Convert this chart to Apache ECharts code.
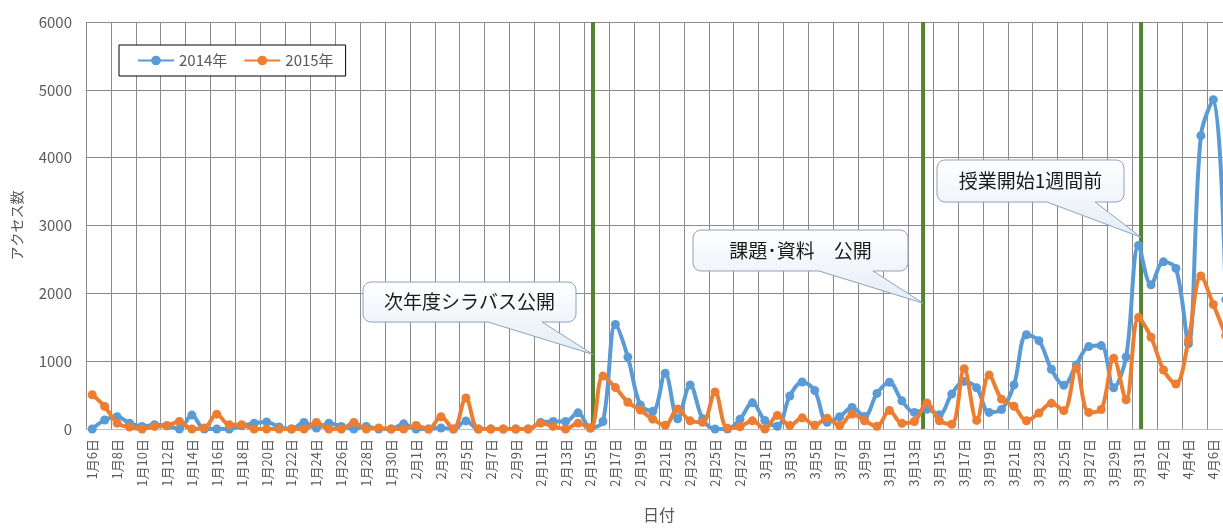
<!DOCTYPE html>
<html>
<head>
<meta charset="utf-8">
<script src="https://cdn.jsdelivr.net/npm/echarts@6/dist/echarts.min.js"></script>
<style>
html,body{margin:0;padding:0;background:#fff;overflow:hidden;width:1223px;height:528px;}
#c{width:1240px;height:528px;}
</style>
</head>
<body>
<div id="c"></div>
<script>
const categories = [
 "1月6日","1月7日","1月8日","1月9日","1月10日","1月11日","1月12日","1月13日","1月14日","1月15日",
 "1月16日","1月17日","1月18日","1月19日","1月20日","1月21日","1月22日","1月23日","1月24日","1月25日",
 "1月26日","1月27日","1月28日","1月29日","1月30日","1月31日",
 "2月1日","2月2日","2月3日","2月4日","2月5日","2月6日","2月7日","2月8日","2月9日","2月10日",
 "2月11日","2月12日","2月13日","2月14日","2月15日","2月16日","2月17日","2月18日","2月19日","2月20日",
 "2月21日","2月22日","2月23日","2月24日","2月25日","2月26日","2月27日","2月28日",
 "3月1日","3月2日","3月3日","3月4日","3月5日","3月6日","3月7日","3月8日","3月9日","3月10日",
 "3月11日","3月12日","3月13日","3月14日","3月15日","3月16日","3月17日","3月18日","3月19日","3月20日",
 "3月21日","3月22日","3月23日","3月24日","3月25日","3月26日","3月27日","3月28日","3月29日","3月30日","3月31日",
 "4月1日","4月2日","4月3日","4月4日","4月5日","4月6日","4月7日"
];
const access2014 = [
 0,133,181,86,38,62,48,0,205,0,
 0,0,48,86,105,29,0,95,14,86,
 38,0,38,0,0,76,
 0,0,14,0,119,0,0,0,0,0,
 95,110,110,238,20,110,1540,1060,355,260,
 822,150,650,150,0,0,145,386,
 125,40,486,693,568,100,180,318,185,525,
 690,415,245,290,210,515,702,607,245,288,
 650,1390,1302,880,645,945,1215,1230,607,1063,2705,
 2126,2464,2367,1256,4324,4855,1908
];
const access2015 = [
 505,333,86,29,0,38,48,110,0,14,
 219,62,62,0,0,0,0,0,95,0,
 0,95,0,14,0,0,
 52,0,181,0,457,0,0,0,0,0,
 86,38,0,86,10,780,610,395,280,145,
 55,295,120,100,547,10,34,120,
 0,200,50,165,55,160,50,220,122,40,
 272,85,110,384,122,70,890,127,795,440,
 335,122,235,378,270,895,245,288,1043,432,1643,
 1353,870,662,1304,2256,1836,1377
];
const seriesNames = ["2014年","2015年"];
const yTicks = [0,1000,2000,3000,4000,5000,6000];
// event markers (position in category units) and callouts
const eventPos = [40.2, 66.7, 84.2];
const calloutTexts = ["次年度シラバス公開","課題･資料　公開","授業開始1週間前"];
const calloutTipValues = [1100, 1855, 2826];

const FONT = '"Noto Sans CJK JP","Noto Sans",sans-serif';
const chart = echarts.init(document.getElementById('c'));

const greenSeries = eventPos.map(p => ({
  type:'line', xAxisIndex:1, yAxisIndex:0, silent:true, z:1,
  symbol:'none', data:[[p,yTicks[0]],[p,yTicks[yTicks.length-1]]],
  lineStyle:{color:'#548235', width:4}, animation:false
}));

chart.setOption({
  animation:false,
  textStyle:{fontFamily:FONT},
  grid:{left:86, right:8, top:22, bottom:93, containLabel:false},
  legend:{
    data:seriesNames, left:119, top:45, orient:'horizontal',
    borderColor:'#000', borderWidth:1, backgroundColor:'#fff',
    padding:[8,12,8,18], itemGap:16, itemWidth:36, itemHeight:12,
    textStyle:{color:'#595959', fontSize:15, fontFamily:FONT}
  },
  xAxis:[{
    type:'category', data:categories, boundaryGap:true,
    name:'日付', nameLocation:'middle', nameGap:78,
    nameTextStyle:{color:'#595959', fontSize:16, fontFamily:FONT},
    axisLine:{show:true, lineStyle:{color:'#bfbfbf', width:1}},
    axisTick:{show:false},
    axisLabel:{interval:1, rotate:90, color:'#595959', fontSize:13, margin:10, fontFamily:FONT},
    splitLine:{show:true, interval:1, lineStyle:{color:'#8c8c8c', width:1}}
  },{
    type:'value', min:-0.5, max:categories.length-0.5, show:false,
    splitLine:{show:false}
  }],
  yAxis:{
    type:'value', min:yTicks[0], max:yTicks[yTicks.length-1], interval:1000,
    name:'アクセス数', nameLocation:'middle', nameGap:62, nameRotate:90,
    nameTextStyle:{color:'#595959', fontSize:14, fontFamily:FONT},
    axisLine:{show:false}, axisTick:{show:false},
    axisLabel:{color:'#595959', fontSize:15, margin:14, fontFamily:FONT, formatter:v => String(v)},
    splitLine:{show:true, lineStyle:{color:'#8c8c8c', width:1}}
  },
  series:[
    ...greenSeries,
    {
      name:seriesNames[0], type:'line', data:access2014, smooth:0.35, z:3,
      symbol:'circle', symbolSize:9, showAllSymbol:true, color:'#5B9BD5',
      lineStyle:{width:4, color:'#5B9BD5'}, itemStyle:{color:'#5B9BD5'}
    },
    {
      name:seriesNames[1], type:'line', data:access2015, smooth:0.35, z:4,
      symbol:'circle', symbolSize:9, showAllSymbol:true, color:'#ED7D31',
      lineStyle:{width:4, color:'#ED7D31'}, itemStyle:{color:'#ED7D31'}
    }
  ]
});

// callout boxes (layout in pixels), pointer tip anchored to data
const boxes = [
  {x:363, y:282, w:213, h:40, b1:488, b2:542},
  {x:693, y:230, w:215, h:41, b1:819, b2:873},
  {x:937, y:160, w:187, h:42, b1:1047, b2:1095}
];
function arc(cx, cy, r, a0, a1, pts){
  const n = 6;
  for(let k=0;k<=n;k++){
    const a = a0 + (a1-a0)*k/n;
    pts.push([cx + r*Math.cos(a), cy + r*Math.sin(a)]);
  }
}
const elements = [];
boxes.forEach((b,i) => {
  const tip = chart.convertToPixel({xAxisIndex:1, yAxisIndex:0}, [eventPos[i], calloutTipValues[i]]);
  const r = 8, x0=b.x, y0=b.y, x1=b.x+b.w, y1=b.y+b.h;
  const P = Math.PI;
  const pts = [];
  arc(x0+r, y0+r, r, P, 1.5*P, pts);
  arc(x1-r, y0+r, r, 1.5*P, 2*P, pts);
  arc(x1-r, y1-r, r, 0, 0.5*P, pts);
  pts.push([b.b2, y1]); pts.push([tip[0], tip[1]]); pts.push([b.b1, y1]);
  arc(x0+r, y1-r, r, 0.5*P, P, pts);
  elements.push({
    type:'polygon', z:100, silent:true,
    shape:{points:pts},
    style:{
      fill:{type:'linear', x:0, y:0, x2:0, y2:1, colorStops:[{offset:0,color:'#ffffff'},{offset:1,color:'#e4ecf5'}]},
      stroke:'#8aa3bd', lineWidth:1
    }
  });
  elements.push({
    type:'text', z:101, silent:true,
    x:x0 + b.w/2, y:y0 + b.h/2,
    style:{text:calloutTexts[i], fill:'#1a1a1a', font:'19px '+FONT, align:'center', verticalAlign:'middle'}
  });
});
chart.setOption({graphic:{elements}});
</script>
</body>
</html>
